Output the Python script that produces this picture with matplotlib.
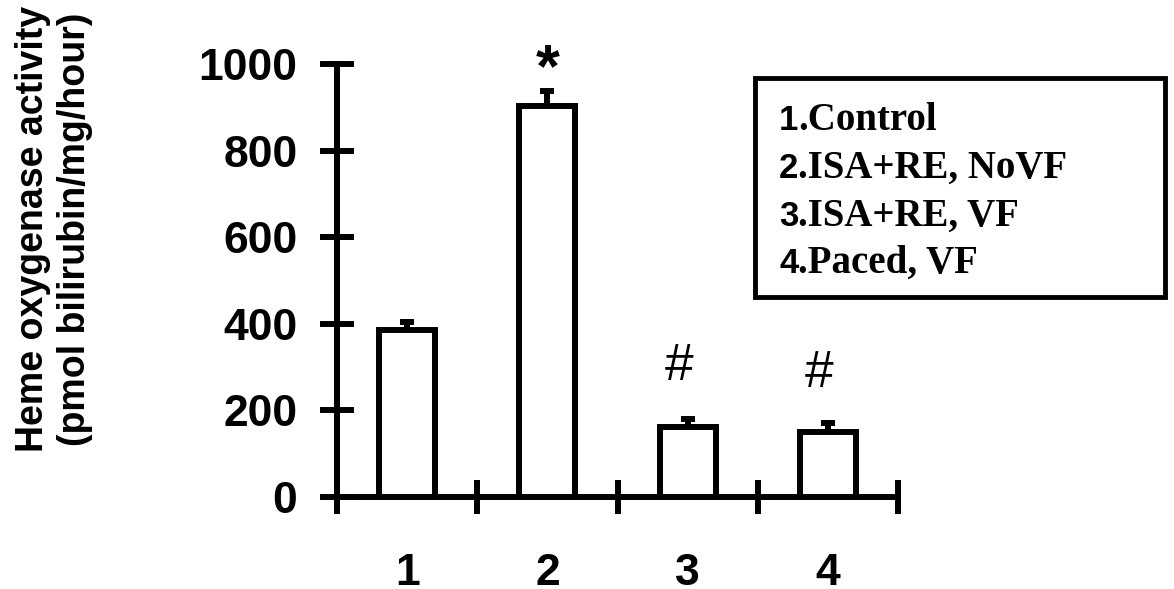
import matplotlib
matplotlib.use("Agg")
from matplotlib import pyplot as plt
import matplotlib.patches as patches

groups = [1, 2, 3, 4]
group_labels = ["1", "2", "3", "4"]
activity = [386, 903, 162, 150]
activity_err = [19, 35, 17, 21]
marks = ["", "*", "#", "#"]
mark_y = [0, 984, 302, 286]
legend_nums = ["1", "2", "3", "4"]
legend_names = [".Control", ".ISA+RE, NoVF", ".ISA+RE, VF", ".Paced, VF"]

W, H = 1174, 589
SANS = "Liberation Sans"
SERIF = "Liberation Serif"
LW = 4.3


def px(x, y):
    # pixel position (from top-left) -> figure fraction
    return x / W, 1 - y / H


fig = plt.figure(figsize=(W / 100, H / 100), dpi=100)
ax = fig.add_axes([337 / W, 1 - 497 / H, (898 - 337) / W, (497 - 64) / H])

ax.bar(groups, activity, width=0.4, color="white", edgecolor="black",
       linewidth=LW, zorder=3)
ax.errorbar(groups, activity, yerr=[[0] * 4, activity_err], fmt="none",
            ecolor="black", elinewidth=LW, capsize=5, capthick=LW, zorder=2)

# significance marks
for g, m, y in zip(groups, marks, mark_y):
    if m == "*":
        ax.text(g, y, m, ha="center", va="center", fontsize=44,
                fontweight="bold", family=SANS)
    elif m == "#":
        ax.text(g - 0.06, y, m, ha="center", va="center", fontsize=37,
                family=SANS)

ax.set_xlim(0.5, 4.5)
ax.set_ylim(0, 1000)
for s in ["top", "right"]:
    ax.spines[s].set_visible(False)
for s in ["left", "bottom"]:
    ax.spines[s].set_linewidth(LW)

ax.set_yticks(range(0, 1001, 200))
ax.tick_params(axis="y", direction="inout", length=25, width=LW, pad=16,
               labelsize=32)
ax.set_xticks([0.5, 1.5, 2.5, 3.5, 4.5])
ax.set_xticklabels([])
ax.tick_params(axis="x", which="major", direction="inout", length=24, width=LW)
ax.set_xticks(groups, minor=True)
ax.set_xticklabels(group_labels, minor=True)
ax.tick_params(axis="x", which="minor", length=0, pad=40, labelsize=32)
for lab in ax.get_xticklabels(minor=True) + ax.get_yticklabels():
    lab.set_family(SANS)
    lab.set_fontweight("bold")

# y label, two lines
fig.text(*px(54, 229), "Heme oxygenase activity\n(pmol bilirubin/mg/hour)",
         rotation=90, ha="center", va="center", fontsize=27,
         fontweight="bold", family=SANS, linespacing=1.2)

# legend box
x0, y0 = px(755, 297)
x1, y1 = px(1165, 78)
fig.patches.append(patches.Rectangle((x0, y0), x1 - x0, y1 - y0,
                                     transform=fig.transFigure, fill=False,
                                     edgecolor="black", linewidth=3.5))
renderer = fig.canvas.get_renderer()
baselines = [130, 178, 226, 273]
for num, name, yb in zip(legend_nums, legend_names, baselines):
    t = fig.text(*px(779, yb), num, ha="left", va="baseline", fontsize=25,
                 fontweight="bold", family=SANS)
    bb = t.get_window_extent(renderer)
    fig.text(bb.x1 / W, 1 - yb / H, name, ha="left", va="baseline",
             fontsize=28, fontweight="bold", family=SERIF)

fig.savefig("out.png", dpi=100)
